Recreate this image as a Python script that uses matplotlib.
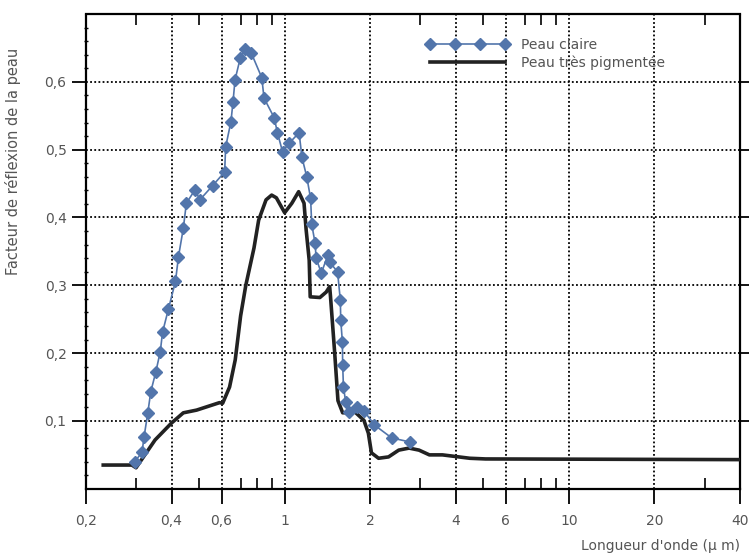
import matplotlib
matplotlib.use("Agg")
import matplotlib.pyplot as plt
from matplotlib.ticker import FixedLocator, FixedFormatter, NullFormatter

claire_x = [0.297, 0.315, 0.32, 0.33, 0.338, 0.352, 0.365, 0.372, 0.39, 0.413,
            0.423, 0.44, 0.451, 0.484, 0.503, 0.558, 0.615, 0.62, 0.647, 0.658,
            0.669, 0.698, 0.727, 0.764, 0.831, 0.846, 0.919, 0.943, 0.983, 1.04,
            1.124, 1.15, 1.196, 1.234, 1.245, 1.28, 1.29, 1.346, 1.42, 1.44,
            1.535, 1.57, 1.575, 1.596, 1.60, 1.61, 1.64, 1.68, 1.80, 1.90,
            2.07, 2.38, 2.76]
claire_y = [0.040, 0.054, 0.076, 0.112, 0.143, 0.172, 0.202, 0.231, 0.265, 0.306,
            0.342, 0.384, 0.421, 0.441, 0.426, 0.447, 0.467, 0.504, 0.541, 0.570,
            0.603, 0.635, 0.648, 0.642, 0.606, 0.576, 0.547, 0.525, 0.497, 0.510,
            0.525, 0.489, 0.460, 0.428, 0.390, 0.362, 0.340, 0.318, 0.345, 0.334,
            0.320, 0.278, 0.249, 0.217, 0.183, 0.150, 0.128, 0.113, 0.120, 0.115,
            0.094, 0.075, 0.069]

# Peau très pigmentée
pigm_x = [0.23, 0.29, 0.30, 0.35, 0.40, 0.44, 0.49, 0.59, 0.605, 0.64, 0.67,
          0.70, 0.73, 0.78, 0.81, 0.86, 0.90, 0.935, 1.0, 1.06, 1.12, 1.17,
          1.19, 1.22, 1.23, 1.33, 1.40, 1.44, 1.45, 1.50, 1.54, 1.60, 1.77,
          1.90, 1.97, 2.02, 2.14, 2.32, 2.52, 2.74, 2.97, 3.23, 3.59, 4.48,
          5.09, 40]
pigm_y = [0.035, 0.035, 0.031, 0.072, 0.097, 0.112, 0.116, 0.127, 0.126, 0.150,
          0.190, 0.255, 0.300, 0.355, 0.396, 0.426, 0.433, 0.429, 0.407, 0.421,
          0.438, 0.421, 0.382, 0.337, 0.283, 0.282, 0.290, 0.298, 0.283, 0.200,
          0.130, 0.112, 0.113, 0.101, 0.082, 0.053, 0.045, 0.047, 0.057, 0.060,
          0.057, 0.050, 0.050, 0.045, 0.044, 0.043]

x_ticks = [0.2, 0.4, 0.6, 1, 2, 4, 6, 10, 20, 40]
x_labels = ['0,2', '0,4', '0,6', '1', '2', '4', '6', '10', '20', '40']
x_minor = [0.3, 0.5, 0.7, 0.8, 0.9, 3, 5, 7, 8, 9, 30]
y_ticks = [0.1, 0.2, 0.3, 0.4, 0.5, 0.6]
y_labels = ['0,1', '0,2', '0,3', '0,4', '0,5', '0,6']

txt_col = '#555555'
blue = '#5275ab'

plt.rcParams['font.family'] = 'DejaVu Sans'
fig = plt.figure(figsize=(7.49, 5.55), dpi=100)
ax = fig.add_axes([0.1148, 0.1193, 0.8732, 0.8555])

ax.plot(pigm_x, pigm_y, color='#222222', lw=2.6, zorder=3,
        label='Peau très pigmentée')
ax.plot(claire_x, claire_y, color=blue, lw=1.2, marker='D', ms=6,
        mec=blue, mfc=blue, zorder=4, label='Peau claire')

ax.set_xscale('log')
ax.set_xlim(0.2, 40)
ax.set_ylim(0, 0.7)

ax.xaxis.set_major_locator(FixedLocator(x_ticks))
ax.xaxis.set_major_formatter(FixedFormatter(x_labels))
ax.xaxis.set_minor_locator(FixedLocator(x_minor))
ax.xaxis.set_minor_formatter(NullFormatter())
ax.yaxis.set_major_locator(FixedLocator(y_ticks))
ax.yaxis.set_major_formatter(FixedFormatter(y_labels))
ax.yaxis.set_minor_locator(FixedLocator([i * 0.02 for i in range(1, 35)]))

ax.grid(True, which='major', color='black', linestyle=(0, (1, 1.3)), lw=1.3)
for s in ax.spines.values():
    s.set_linestyle((0, (1, 1)))
    s.set_linewidth(1.6)

ax.tick_params(axis='x', which='major', direction='out', length=11, width=1.3,
               pad=7, labelsize=10, labelcolor=txt_col)
ax.tick_params(axis='x', which='minor', direction='out', length=8, width=1.2)
ax.tick_params(axis='x', which='minor', top=True, direction='in', length=8)
ax.tick_params(axis='y', which='major', direction='out', length=10, width=1.3,
               pad=4, labelsize=10, labelcolor=txt_col, right=True)
ax.tick_params(axis='y', which='minor', direction='inout', length=3, width=1)

ax.set_ylabel('Facteur de réflexion de la peau', color=txt_col, fontsize=10.5)
ax.yaxis.set_label_coords(-0.10, 0.69)
ax.set_xlabel("Longueur d'onde (\u00b5 m)", color=txt_col, fontsize=10, loc='right')
ax.xaxis.set_label_coords(1.0, -0.105)

leg = ax.legend(handles=ax.get_lines()[::-1], loc='upper left',
                bbox_to_anchor=(0.5, 0.975), frameon=False, numpoints=4,
                handlelength=6, handletextpad=0.9, labelspacing=0.2,
                fontsize=10)
for t in leg.get_texts():
    t.set_color(txt_col)

fig.savefig('out.png', dpi=100)
